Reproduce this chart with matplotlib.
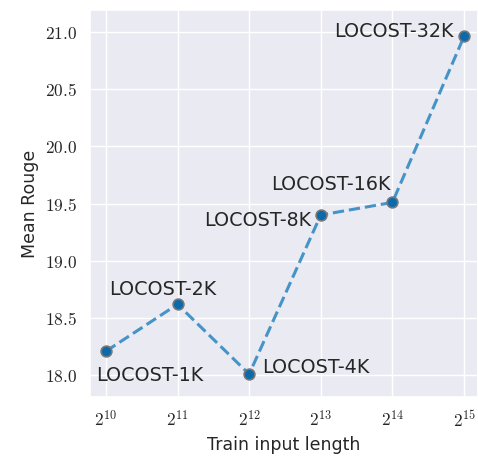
import matplotlib
matplotlib.use("Agg")
import matplotlib.pyplot as plt
import seaborn as sns
from matplotlib.ticker import FuncFormatter

# mean rouge vs train input length (log2)
log_len = [10, 11, 12, 13, 14, 15]
rouge = [18.21, 18.62, 18.01, 19.40, 19.51, 20.96]
names = ["LOCOST-1K", "LOCOST-2K", "LOCOST-4K", "LOCOST-8K", "LOCOST-16K", "LOCOST-32K"]

sns.set_theme(style="darkgrid")
plt.rcParams['font.family'] = ['DejaVu Sans']
plt.rcParams['mathtext.fontset'] = 'cm'

fig = plt.figure(figsize=(4.78, 4.59), dpi=100)
ax = fig.add_axes([0.188, 0.135, 0.812, 0.843])

ax.plot(log_len, rouge, ls='--', lw=2.2, color='#3d8fc6', alpha=0.95, zorder=2)
ax.scatter(log_len, rouge, s=60, color='#0a6aab', edgecolor='#777777', lw=1.2, zorder=3)

# label offsets in pixels (dx, dy, ha)
offs = [(-10, -24, 'left'), (-15, 15, 'center'), (13, 7, 'left'),
        (-10, -5, 'right'), (-62, 18, 'center'), (-10, 5, 'right')]
for x, y, n, (dx, dy, ha) in zip(log_len, rouge, names, offs):
    ax.annotate(n, (x, y), xytext=(dx, dy), textcoords='offset pixels',
                ha=ha, va='center', fontsize=13.8, color='#262626')

ax.set_xlim(9.776, 15.195)
ax.set_ylim(17.81, 21.19)
ax.set_xticks(log_len)
ax.xaxis.set_major_formatter(FuncFormatter(lambda v, p: r'$2^{%d}$' % int(v)))
ax.yaxis.set_major_formatter(FuncFormatter(lambda v, p: r'$%.1f$' % v))
ax.tick_params(labelsize=12.5)

ax.set_xlabel('Train input length', fontsize=12.5)
ax.set_ylabel('Mean Rouge', fontsize=12.5)

fig.savefig('out.png', dpi=100)
